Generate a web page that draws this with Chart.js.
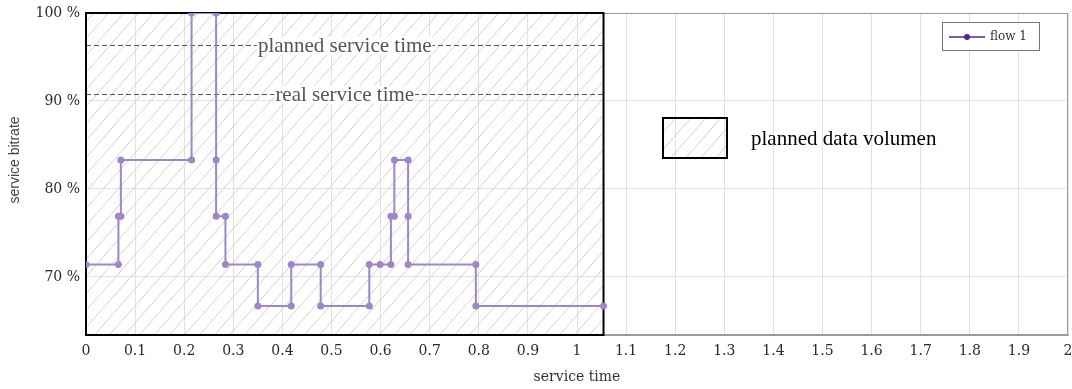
<!DOCTYPE html>
<html>
<head>
<meta charset="utf-8">
<script src="https://cdn.jsdelivr.net/npm/chart.js@4.4.1/dist/chart.umd.min.js"></script>
<style>
  html, body { margin: 0; padding: 0; background: #fff; }
  #wrap { width: 1072px; height: 389px; }
</style>
</head>
<body>
<div id="wrap"><canvas id="grafikBitrate"></canvas></div>
<script>
// flow 1: step points (service time, service bitrate in %)
const flowTime = [0, 0.066, 0.066, 0.071, 0.071, 0.215, 0.215, 0.265, 0.265, 0.265,
    0.284, 0.284, 0.35, 0.35, 0.418, 0.418, 0.478, 0.478, 0.577, 0.577,
    0.599, 0.621, 0.621, 0.628, 0.628, 0.656, 0.656, 0.656, 0.794, 0.794, 1.054];
const flowBitrate = [71.4, 71.4, 76.9, 76.9, 83.3, 83.3, 100, 100, 83.3, 76.9,
    76.9, 71.4, 71.4, 66.7, 66.7, 71.4, 71.4, 66.7, 66.7, 71.4,
    71.4, 71.4, 76.9, 76.9, 83.3, 83.3, 76.9, 71.4, 71.4, 66.7, 66.7];

// planned data volumen box (x end, y top)
const boxEnd = 1.054;
const boxTop = 100;

// dashed reference levels
const refLabels = ["planned service time", "real service time"];
const refLevels = [96.4, 90.8];

// axes
const xTicks = [0, 0.1, 0.2, 0.3, 0.4, 0.5, 0.6, 0.7, 0.8, 0.9, 1, 1.1, 1.2, 1.3, 1.4, 1.5, 1.6, 1.7, 1.8, 1.9, 2];
const yTicks = [70, 80, 90, 100];
const xRange = [0, 2];
const yRange = [63.4, 100];

const lineColor = "#9f86ca";

// hatching pattern
function makeHatch() {
    const w = 15, h = 17;
    const p = document.createElement("canvas");
    p.width = w; p.height = h;
    const c = p.getContext("2d");
    c.strokeStyle = "#d2d2d2";
    c.lineWidth = 1;
    c.beginPath();
    c.moveTo(0, h); c.lineTo(w, 0);
    c.moveTo(-w, h); c.lineTo(0, 0);
    c.moveTo(w, 2 * h); c.lineTo(2 * w, h);
    c.stroke();
    return p;
}
const hatchCanvas = makeHatch();

const overlayPlugin = {
    id: "overlay",
    beforeDatasetsDraw(chart) {
        const { ctx, chartArea: a, scales: { x, y } } = chart;
        const hatch = ctx.createPattern(hatchCanvas, "repeat");
        const bx0 = x.getPixelForValue(0), bx1 = x.getPixelForValue(boxEnd);
        const by0 = y.getPixelForValue(boxTop), by1 = a.bottom;

        ctx.save();
        // outer frame (top / right)
        ctx.strokeStyle = "#9a9a9a";
        ctx.lineWidth = 1;
        ctx.strokeRect(a.left + 0.5, a.top + 0.5, a.right - a.left - 1, a.bottom - a.top - 1);

        // hatched box
        ctx.fillStyle = hatch;
        ctx.fillRect(bx0, by0, bx1 - bx0, by1 - by0);

        // dashed reference lines
        ctx.font = "21px 'Liberation Serif'";
        ctx.textAlign = "center";
        ctx.textBaseline = "middle";
        const cx = (bx0 + bx1) / 2;
        refLevels.forEach((lvl, i) => {
            const py = Math.round(y.getPixelForValue(lvl)) + 0.5;
            ctx.strokeStyle = "#555";
            ctx.setLineDash([5, 3]);
            ctx.beginPath();
            ctx.moveTo(bx0, py);
            ctx.lineTo(bx1, py);
            ctx.stroke();
            ctx.setLineDash([]);
            const tw = ctx.measureText(refLabels[i]).width;
            ctx.fillStyle = "#fff";
            ctx.fillRect(cx - tw / 2 - 1, py - 9, tw + 2, 18);
            ctx.fillStyle = "#555";
            ctx.fillText(refLabels[i], cx, py + 1);
        });

        // box border
        ctx.strokeStyle = "#000";
        ctx.lineWidth = 2;
        ctx.strokeRect(bx0, by0, bx1 - bx0, by1 - by0);
        ctx.restore();
    },
    afterDraw(chart) {
        const { ctx, chartArea: a } = chart;
        const ds = chart.data.datasets[0];
        ctx.save();

        // key for planned data volumen
        const kx = 663, ky = 118;
        ctx.fillStyle = ctx.createPattern(hatchCanvas, "repeat");
        ctx.fillRect(kx, ky, 64, 40);
        ctx.strokeStyle = "#000";
        ctx.lineWidth = 2;
        ctx.strokeRect(kx, ky, 64, 40);
        ctx.fillStyle = "#000";
        ctx.font = "21px 'Liberation Serif'";
        ctx.textAlign = "left";
        ctx.textBaseline = "alphabetic";
        ctx.fillText("planned data volumen", 751, 145);

        // legend
        const lx = 942, ly = 22, lw = 97, lh = 28;
        ctx.fillStyle = "#fff";
        ctx.fillRect(lx, ly, lw, lh);
        ctx.strokeStyle = "#777";
        ctx.lineWidth = 1;
        ctx.strokeRect(lx + 0.5, ly + 0.5, lw, lh);
        ctx.strokeStyle = "#7a5bb5";
        ctx.lineWidth = 2;
        ctx.beginPath();
        ctx.moveTo(949, 37);
        ctx.lineTo(985, 37);
        ctx.stroke();
        ctx.fillStyle = "#4b2a8a";
        ctx.beginPath();
        ctx.arc(967, 37, 3, 0, Math.PI * 2);
        ctx.fill();
        ctx.fillStyle = "#333";
        ctx.font = "12px 'DejaVu Serif'";
        ctx.textBaseline = "middle";
        ctx.fillText(ds.label, 990, 37);

        // axis titles
        ctx.fillStyle = "#333";
        ctx.font = "14px 'DejaVu Serif'";
        ctx.textAlign = "center";
        ctx.textBaseline = "alphabetic";
        ctx.fillText("service time", (a.left + a.right) / 2, 381);

        ctx.translate(19, 160);
        ctx.rotate(-Math.PI / 2);
        ctx.fillStyle = "#444";
        ctx.font = "14px 'Liberation Sans'";
        ctx.fillText("service bitrate", 0, 0);
        ctx.restore();
    },
};

const ctx = document.getElementById("grafikBitrate").getContext("2d");

new Chart(ctx, {
    type: "line",
    data: {
        datasets: [
            {
                label: "flow 1",
                data: flowTime.map((t, i) => ({ x: t, y: flowBitrate[i] })),
                borderColor: lineColor,
                backgroundColor: lineColor,
                pointBackgroundColor: lineColor,
                pointBorderWidth: 0,
                pointRadius: 3.5,
                borderWidth: 2,
                tension: 0,
                fill: false,
            },
        ],
    },
    options: {
        responsive: true,
        maintainAspectRatio: false,
        animation: false,
        layout: { padding: { top: 13, right: 4, left: 0, bottom: 0 } },
        plugins: {
            legend: { display: false },
            tooltip: { enabled: false },
        },
        scales: {
            x: {
                type: "linear",
                min: xRange[0],
                max: xRange[1],
                afterBuildTicks: (s) => { s.ticks = xTicks.map((v) => ({ value: v })); },
                afterFit: (s) => { s.height = 54; s.paddingLeft = 0; s.paddingRight = 0; },
                grid: { color: "#e2e2e2", drawTicks: false },
                border: { color: "#9a9a9a" },
                ticks: {
                    padding: 8,
                    color: "#2a2a2a",
                    font: { family: "'DejaVu Serif'", size: 14 },
                    maxRotation: 0,
                    autoSkip: false,
                    callback: (v) => String(Math.round(v * 10) / 10),
                },
            },
            y: {
                type: "linear",
                min: yRange[0],
                max: yRange[1],
                afterBuildTicks: (s) => { s.ticks = yTicks.map((v) => ({ value: v })); },
                afterFit: (s) => { s.width = 86; s.paddingTop = 0; s.paddingBottom = 0; },
                grid: { color: "#e2e2e2", drawTicks: false },
                border: { color: "#000" },
                ticks: {
                    padding: 6,
                    color: "#2a2a2a",
                    font: { family: "'DejaVu Serif'", size: 14 },
                    callback: (v) => v + " %",
                },
            },
        },
    },
    plugins: [overlayPlugin],
});
</script>
</body>
</html>
